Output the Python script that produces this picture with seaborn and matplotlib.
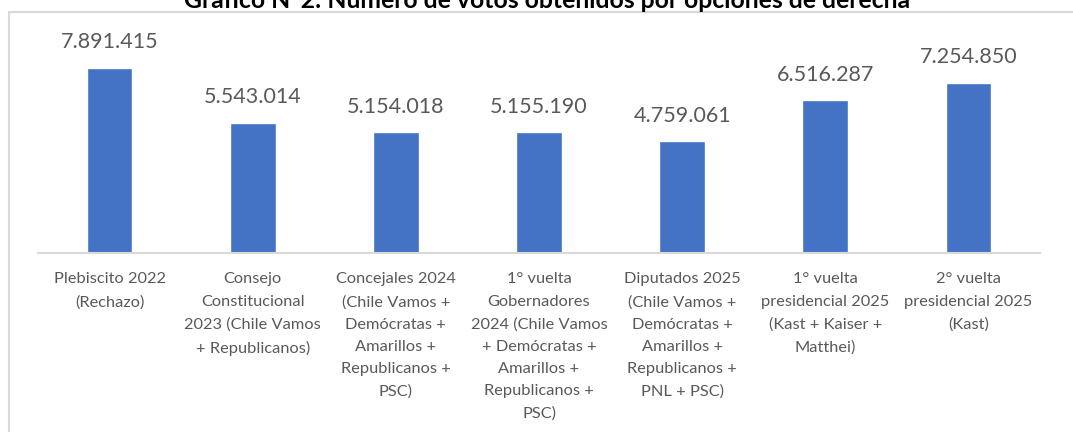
import matplotlib
matplotlib.use('Agg')
import matplotlib.pyplot as plt
import seaborn as sns
import pandas as pd
from matplotlib.patches import Rectangle

# Chart data
categories = [
    "Plebiscito 2022\n(Rechazo)",
    "Consejo\nConstitucional\n2023 (Chile Vamos\n+ Republicanos)",
    "Concejales 2024\n(Chile Vamos +\nDemócratas +\nAmarillos +\nRepublicanos +\nPSC)",
    "1° vuelta\nGobernadores\n2024 (Chile Vamos\n+ Demócratas +\nAmarillos +\nRepublicanos +\nPSC)",
    "Diputados 2025\n(Chile Vamos +\nDemócratas +\nAmarillos +\nRepublicanos +\nPNL + PSC)",
    "1° vuelta\npresidencial 2025\n(Kast + Kaiser +\nMatthei)",
    "2° vuelta\npresidencial 2025\n(Kast)",
]
votes = [7891415, 5543014, 5154018, 5155190, 4759061, 6516287, 7254850]
title = "Gráfico N°2: Número de votos obtenidos por opciones de derecha"

df = pd.DataFrame({'Opcion': categories, 'Votos': votes})

sns.set_style('white')
plt.rcParams['font.family'] = ['Lato', 'DejaVu Sans']

W, H = 1073, 432
fig = plt.figure(figsize=(W / 100, H / 100), dpi=100)
ax = fig.add_axes([38 / W, (H - 253) / H, (1040 - 38) / W, 211.5 / H])

sns.barplot(data=df, x='Opcion', y='Votos', color='#4472C4', width=0.32,
            saturation=1, ax=ax)

# value labels with dot as thousands separator
labels = [f"{v:,}".replace(",", ".") for v in votes]
ax.bar_label(ax.containers[0], labels=labels, padding=11, fontsize=15.5,
             color='#595959')

ax.set_ylim(0, 9000000)
ax.set_xlim(-0.5, len(categories) - 0.5)
ax.set_xlabel('')
ax.set_ylabel('')
ax.set_yticks([])
ax.tick_params(axis='x', length=0, pad=14, labelsize=11.8, labelcolor='#595959')
for lbl in ax.get_xticklabels():
    lbl.set_linespacing(1.75)
for s in ['top', 'right', 'left']:
    ax.spines[s].set_visible(False)
ax.spines['bottom'].set_color('#D9D9D9')
ax.spines['bottom'].set_linewidth(1.5)

# chart area border (partly outside the picture)
fig.patches.append(Rectangle((8.5 / W, -0.2), 1.2, 1.2 - 12 / H,
                             transform=fig.transFigure, fill=False,
                             ec='#D9D9D9', lw=1.5))

# title, cropped at the top as in the original
fig.text(547 / W, 1 - 7.5 / H, title, ha='center', va='baseline',
         fontsize=17.8, fontweight='bold', color='black')

fig.savefig('out.png', dpi=100)
